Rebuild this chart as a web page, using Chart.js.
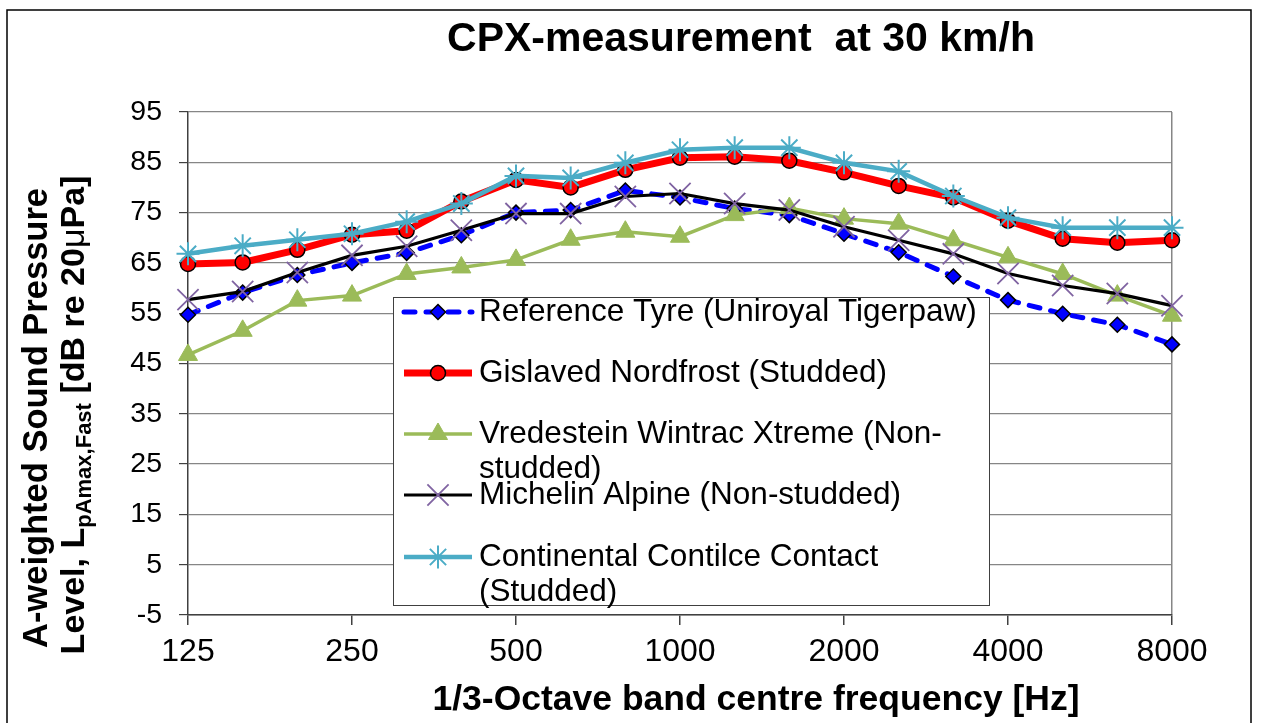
<!DOCTYPE html>
<html>
<head>
<meta charset="utf-8">
<script src="https://cdn.jsdelivr.net/npm/chart.js@4.4.1/dist/chart.umd.min.js"></script>
<style>
  html, body { margin: 0; padding: 0; background: #ffffff; }
  canvas { display: block; }
</style>
</head>
<body>
<canvas id="c" width="1261" height="723"></canvas>
<script>
// ---------- data ----------
const bandLabels = ['125','160','200','250','315','400','500','630','800','1000','1250','1600','2000','2500','3150','4000','5000','6300','8000'];
const shownTickLabels = ['125','250','500','1000','2000','4000','8000'];
const yTickMin = -5;
const yTickMax = 95;
const yTickStep = 10;

const referenceTyre = [54.7, 59.1, 62.6, 65.0, 67.0, 70.5, 75.0, 75.5, 79.4, 78.0, 75.8, 74.5, 70.8, 67.1, 62.3, 57.6, 54.9, 52.7, 48.8];
const gislavedNordfrost = [64.8, 65.1, 67.6, 70.6, 71.4, 77.2, 81.5, 80.0, 83.5, 85.9, 86.1, 85.3, 83.0, 80.3, 78.0, 73.4, 69.8, 69.0, 69.5];
const vredesteinWintrac = [46.7, 51.5, 57.5, 58.5, 62.8, 64.1, 65.6, 69.6, 71.2, 70.2, 74.5, 75.9, 73.8, 72.8, 69.5, 66.1, 62.8, 58.5, 54.5];
const michelinAlpine = [57.7, 59.3, 63.1, 66.5, 68.3, 71.5, 74.8, 74.8, 78.2, 78.8, 76.8, 75.5, 72.2, 69.5, 66.8, 62.9, 60.5, 58.9, 56.5];
const continentalContact = [66.8, 68.4, 69.6, 70.8, 73.2, 76.8, 82.3, 81.9, 84.9, 87.5, 87.9, 87.9, 84.9, 83.2, 78.3, 74.0, 72.0, 72.0, 72.0];

const seriesNames = [
  'Reference Tyre (Uniroyal Tigerpaw)',
  'Gislaved Nordfrost (Studded)',
  'Vredestein Wintrac Xtreme (Non-studded)',
  'Michelin Alpine (Non-studded)',
  'Continental Contilce Contact (Studded)'
];
const legendLines = [
  ['Reference Tyre (Uniroyal Tigerpaw)'],
  ['Gislaved Nordfrost (Studded)'],
  ['Vredestein Wintrac Xtreme (Non-', 'studded)'],
  ['Michelin Alpine (Non-studded)'],
  ['Continental Contilce Contact', '(Studded)']
];
const chartTitle = 'CPX-measurement  at 30 km/h';
const xTitle = '1/3-Octave band centre frequency [Hz]';

// ---------- styling ----------
const FONT = '"Liberation Sans", Arial, Helvetica, sans-serif';

const datasets = [
  { label: seriesNames[0], data: referenceTyre, borderColor: '#0000FF', backgroundColor: '#0000FF',
    borderWidth: 5, borderDash: [11, 11], borderCapStyle: 'round',
    pointStyle: 'rectRot', pointRadius: 7.5, pointBackgroundColor: '#0000FF', pointBorderColor: '#000000', pointBorderWidth: 1.5, order: 5 },
  { label: seriesNames[1], data: gislavedNordfrost, borderColor: '#FF0000', backgroundColor: '#FF0000',
    borderWidth: 7, pointStyle: 'circle', pointRadius: 7.5, pointBackgroundColor: '#FF0000', pointBorderColor: '#000000', pointBorderWidth: 1.5, order: 4 },
  { label: seriesNames[2], data: vredesteinWintrac, borderColor: '#9BBB59', backgroundColor: '#9BBB59',
    borderWidth: 3.5, pointStyle: 'triangle', pointRadius: 11, pointBackgroundColor: '#9BBB59', pointBorderColor: '#9BBB59', pointBorderWidth: 1, order: 3 },
  { label: seriesNames[3], data: michelinAlpine, borderColor: '#000000', backgroundColor: '#000000',
    borderWidth: 3.2, pointStyle: 'crossRot', pointRadius: 15, pointBackgroundColor: '#8064A2', pointBorderColor: '#8064A2', pointBorderWidth: 1.8, order: 2 },
  { label: seriesNames[4], data: continentalContact, borderColor: '#4BACC6', backgroundColor: '#4BACC6',
    borderWidth: 4.5, pointStyle: 'star', pointRadius: 11.5, pointBackgroundColor: '#4BACC6', pointBorderColor: '#4BACC6', pointBorderWidth: 2, order: 1 }
];
datasets.forEach(d => { d.tension = 0; d.fill = false; d.pointHoverRadius = d.pointRadius; });

const decorPlugin = {
  id: 'decor',
  beforeDraw(chart) {
    const ctx = chart.ctx;
    ctx.save();
    ctx.fillStyle = '#ffffff';
    ctx.fillRect(0, 0, chart.width, chart.height);
    ctx.restore();
  },
  afterDraw(chart) {
    const ctx = chart.ctx;
    ctx.save();
    // outer frame
    ctx.strokeStyle = '#000000';
    ctx.lineWidth = 1.5;
    ctx.strokeRect(7, 10, 1244, 760);

    // title
    ctx.fillStyle = '#000000';
    ctx.font = 'bold 41px ' + FONT;
    ctx.textAlign = 'center';
    ctx.textBaseline = 'middle';
    ctx.fillText(chartTitle, 741, 40);

    // x title
    ctx.font = 'bold 35.5px ' + FONT;
    ctx.fillText(xTitle, 756, 700);

    // y title line 1
    ctx.save();
    ctx.translate(47, 418);
    ctx.rotate(-Math.PI / 2);
    ctx.textAlign = 'center';
    ctx.textBaseline = 'alphabetic';
    ctx.font = 'bold 34.5px ' + FONT;
    ctx.fillText('A-weighted Sound Pressure', 0, 0);
    ctx.restore();

    // y title line 2 with subscript
    ctx.save();
    ctx.translate(84, 415);
    ctx.rotate(-Math.PI / 2);
    ctx.textAlign = 'left';
    ctx.textBaseline = 'alphabetic';
    const parts = [
      { t: 'Level, L', f: 'bold 34px ' + FONT, dy: 0 },
      { t: 'pAmax,Fast', f: 'bold 22px ' + FONT, dy: 7 },
      { t: ' [dB re 20', f: 'bold 34px ' + FONT, dy: 0 },
      { t: 'μ', f: '34px ' + FONT, dy: 0 },
      { t: 'Pa]', f: 'bold 34px ' + FONT, dy: 0 }
    ];
    let total = 0;
    parts.forEach(p => { ctx.font = p.f; p.w = ctx.measureText(p.t).width; total += p.w; });
    let px = -total / 2;
    parts.forEach(p => { ctx.font = p.f; ctx.fillText(p.t, px, p.dy); px += p.w; });
    ctx.restore();

    // legend
    const box = { x: 393.5, y: 297.5, w: 596, h: 308 };
    ctx.fillStyle = '#ffffff';
    ctx.fillRect(box.x, box.y, box.w, box.h);
    ctx.strokeStyle = '#404040';
    ctx.lineWidth = 1;
    ctx.strokeRect(box.x, box.y, box.w, box.h);
    const rowY = [[312], [373], [434, 469], [495], [557, 592]];
    ctx.font = '31.5px ' + FONT;
    ctx.textAlign = 'left';
    ctx.textBaseline = 'middle';
    chart.data.datasets.forEach((ds, i) => {
      const y = rowY[i][0];
      ctx.save();
      ctx.strokeStyle = ds.borderColor;
      ctx.lineWidth = ds.borderWidth;
      ctx.lineCap = ds.borderCapStyle || 'butt';
      ctx.setLineDash(ds.borderDash || []);
      ctx.beginPath();
      ctx.moveTo(404, y);
      ctx.lineTo(472, y);
      ctx.stroke();
      ctx.setLineDash([]);
      ctx.fillStyle = ds.pointBackgroundColor;
      ctx.strokeStyle = ds.pointBorderColor;
      ctx.lineWidth = ds.pointBorderWidth;
      Chart.helpers.drawPoint(ctx, { pointStyle: ds.pointStyle, rotation: 0, radius: ds.pointRadius, borderWidth: ds.pointBorderWidth }, 438, y);
      ctx.restore();
      ctx.fillStyle = '#000000';
      legendLines[i].forEach((line, k) => ctx.fillText(line, 479, rowY[i][k]));
    });
    ctx.restore();
  }
};

new Chart(document.getElementById('c'), {
  type: 'line',
  data: { labels: bandLabels, datasets: datasets },
  options: {
    responsive: false,
    animation: false,
    devicePixelRatio: 1,
    layout: { padding: { left: 0, top: 112, right: 89, bottom: 0 } },
    plugins: { legend: { display: false }, tooltip: { enabled: false }, title: { display: false } },
    scales: {
      x: {
        type: 'category',
        offset: false,
        grid: {
          drawOnChartArea: true,
          color: c => (c.index === bandLabels.length - 1 ? '#868686' : 'rgba(0,0,0,0)'),
          tickColor: c => (shownTickLabels.includes(bandLabels[c.index]) ? '#404040' : 'rgba(0,0,0,0)'),
          tickLength: 10,
          lineWidth: 1.5
        },
        border: { color: '#404040', width: 1.5 },
        ticks: {
          autoSkip: false, maxRotation: 0, minRotation: 0,
          color: '#000000', font: { family: FONT, size: 32 }, padding: 8,
          callback: (v, i) => (shownTickLabels.includes(bandLabels[i]) ? bandLabels[i] : '')
        },
        afterFit: s => { s.height = 108; }
      },
      y: {
        min: yTickMin, max: yTickMax,
        grid: { color: '#868686', lineWidth: 1.2, tickColor: '#404040', tickLength: 9 },
        border: { color: '#404040', width: 1.5 },
        ticks: { stepSize: yTickStep, color: '#000000', font: { family: FONT, size: 28.5 }, padding: 17 },
        afterFit: s => { s.width = 188; }
      }
    }
  },
  plugins: [decorPlugin]
});
</script>
</body>
</html>
